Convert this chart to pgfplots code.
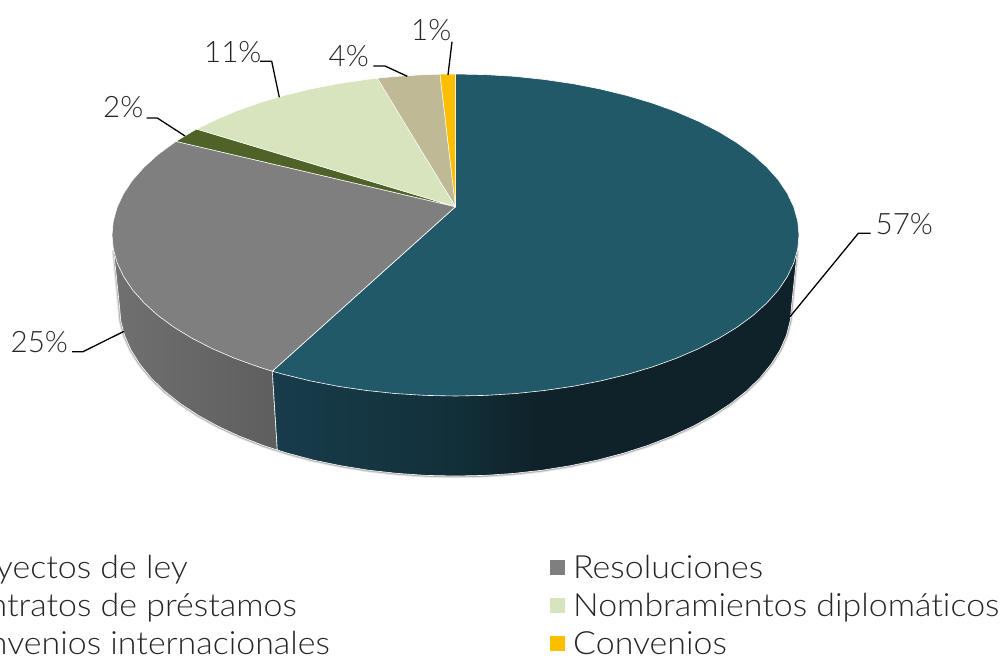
\documentclass[border=0pt]{standalone}
\usepackage{fontspec}
\setmainfont{Lato}[UprightFont=* Light,Ligatures=NoCommon]
\newfontfamily\legfont{Lato}[UprightFont=* Light,Ligatures=NoCommon,FakeStretch=1.06]
\usepackage{pgfplots}
\pgfplotsset{compat=1.18}
\definecolor{teal1}{HTML}{215968}
\definecolor{gray1}{HTML}{7F7F7F}
\definecolor{olive1}{HTML}{4F6228}
\definecolor{lime1}{HTML}{D7E4BD}
\definecolor{tan1}{HTML}{BFB995}
\definecolor{gold1}{HTML}{FCBF00}
\definecolor{txt}{HTML}{262626}
\definecolor{HTMLa}{HTML}{183C4B}
\definecolor{HTMLb}{HTML}{12303A}
\definecolor{HTMLc}{HTML}{0F2229}
\definecolor{gsa}{HTML}{707070}
\definecolor{gsb}{HTML}{5E5E5E}
\pgfdeclarehorizontalshading{tealside}{100bp}{color(0bp)=(HTMLa);color(25bp)=(HTMLa);color(42bp)=(HTMLb);color(50bp)=(HTMLc);color(100bp)=(HTMLc)}
\newcommand{\lab}[2]{\fontsize{#1}{#1}\selectfont\color{txt}#2}
\newcommand{\leg}[1]{\legfont\fontsize{32pt}{32pt}\selectfont\color{txt}#1}
\begin{document}
\begin{tikzpicture}[x=1pt,y=1pt]
\path[use as bounding box,clip] (0,0) rectangle (1005,658);
\begin{axis}[at={(0,0)},anchor=south west,width=1005pt,height=658pt,scale only axis,
  xmin=0,xmax=1005,ymin=0,ymax=658,y dir=reverse,hide axis,clip=true]
% shadow
\addplot[draw=black,line width=4.5pt,opacity=0.10] coordinates {(114,250)(119.5,306)(120.8,320.8)(124.6,335.5)(131,350)(139.8,364.1)(151,377.8)(164.5,391)(180.3,403.5)(198.1,415.3)(217.9,426.2)(239.5,436.2)(262.8,445.3)(287.5,453.2)(313.5,460.1)(340.6,465.7)(368.5,470.2)(397.2,473.4)(426.2,475.4)(455.5,476)(484.8,475.4)(513.8,473.4)(542.5,470.2)(570.4,465.7)(597.5,460.1)(623.5,453.2)(648.2,445.3)(671.5,436.2)(693.1,426.2)(712.9,415.3)(730.7,403.5)(746.5,391)(760,377.8)(771.2,364.1)(780,350)(786.4,335.5)(790.2,320.8)(791.5,306)(797,250)};
\addplot[draw=black,line width=2.6pt,opacity=0.22] coordinates {(114,250)(119.5,306)(120.8,320.8)(124.6,335.5)(131,350)(139.8,364.1)(151,377.8)(164.5,391)(180.3,403.5)(198.1,415.3)(217.9,426.2)(239.5,436.2)(262.8,445.3)(287.5,453.2)(313.5,460.1)(340.6,465.7)(368.5,470.2)(397.2,473.4)(426.2,475.4)(455.5,476)(484.8,475.4)(513.8,473.4)(542.5,470.2)(570.4,465.7)(597.5,460.1)(623.5,453.2)(648.2,445.3)(671.5,436.2)(693.1,426.2)(712.9,415.3)(730.7,403.5)(746.5,391)(760,377.8)(771.2,364.1)(780,350)(786.4,335.5)(790.2,320.8)(791.5,306)(797,250)};
% sides
\addplot[shade,left color=gsa,right color=gsb,draw=white,line width=0.6pt] coordinates {(272.3,371.2)(272.3,300)(112,235)(119.5,306)(120.8,320.8)(124.6,335.5)(131,350)(139.8,364.1)(151,377.8)(164.5,391)(180.3,403.5)(198.1,415.3)(217.9,426.2)(239.5,436.2)(262.8,445.3)(277.3,450)} --cycle;
\addplot[shade,shading=tealside,draw=white,line width=0.6pt] coordinates {(272.3,371.2)(272.3,300)(799,235)(791.5,306)(790.2,320.8)(786.4,335.5)(780,350)(771.2,364.1)(760,377.8)(746.5,391)(730.7,403.5)(712.9,415.3)(693.1,426.2)(671.5,436.2)(648.2,445.3)(623.5,453.2)(597.5,460.1)(570.4,465.7)(542.5,470.2)(513.8,473.4)(484.8,475.4)(455.5,476)(426.2,475.4)(397.2,473.4)(368.5,470.2)(340.6,465.7)(313.5,460.1)(287.5,453.2)(277.3,450)} --cycle;
% top faces
\addplot[fill=teal1,draw=white,line width=0.6pt] coordinates {(455.5,206.7)(455.5,74)(485.4,74.6)(515.1,76.4)(544.4,79.5)(573,83.7)(600.7,89.1)(627.3,95.6)(652.5,103.1)(676.3,111.7)(698.4,121.2)(718.6,131.5)(736.9,142.7)(753,154.5)(766.8,167)(778.3,179.9)(787.3,193.3)(793.8,207)(797.7,221)(799,235)(797.7,249)(793.8,263)(787.3,276.7)(778.3,290.1)(766.8,303)(753,315.5)(736.9,327.3)(718.6,338.5)(698.4,348.8)(676.3,358.3)(652.5,366.9)(627.3,374.4)(600.7,380.9)(573,386.3)(544.4,390.5)(515.1,393.6)(485.4,395.4)(455.5,396)(425.6,395.4)(395.9,393.6)(366.6,390.5)(338,386.3)(310.3,380.9)(283.75,374.4)(272.3,371.2)} --cycle;
\addplot[fill=gray1,draw=white,line width=0.6pt] coordinates {(455.5,206.7)(272.3,371.2)(258.5,366.9)(234.7,358.3)(212.6,348.8)(192.4,338.5)(174.1,327.3)(158,315.5)(144.2,303)(132.7,290.1)(123.7,276.7)(117.2,263)(113.3,249)(112,235)(113.3,221)(117.2,207)(123.7,193.3)(132.7,179.9)(144.2,167)(158,154.5)(174.1,142.7)(176,141.4)} --cycle;
\addplot[fill=olive1,draw=white,line width=0.5pt] coordinates {(455.5,206.7)(176,141.4)(192.4,131.5)(196.7,129.1)} --cycle;
\addplot[fill=lime1,draw=white,line width=0.5pt] coordinates {(455.5,206.7)(196.7,129.1)(212.6,121.2)(234.7,111.7)(258.5,103.1)(283.75,95.6)(310.3,89.1)(338,83.7)(366.6,79.5)(377.3,78.2)} --cycle;
\addplot[fill=tan1,draw=white,line width=0.5pt] coordinates {(455.5,206.7)(377.3,78.2)(395.9,76.4)(425.6,74.6)(440,74.2)} --cycle;
\addplot[fill=gold1,draw=white,line width=0.5pt] coordinates {(455.5,206.7)(440,74.2)(455.5,74)} --cycle;
% leaders
\addplot[black,line width=1.3pt] coordinates {(790,316.7)(858.3,233.3)(870.7,233.3)};
\addplot[black,line width=1.3pt] coordinates {(124,331.3)(83,351.7)(72,351.7)};
\addplot[black,line width=1.3pt] coordinates {(185,136)(157.3,118)(146.7,118)};
\addplot[black,line width=1.3pt] coordinates {(279.3,97.3)(271.7,61.3)(260,61.3)};
\addplot[black,line width=1.3pt] coordinates {(407.3,76.3)(385,66)(373.3,66)};
\addplot[black,line width=1.3pt] coordinates {(448,75)(452,41.7)};
% legend markers
\addplot[only marks,mark=square*,mark size=7pt,color=gray1] coordinates {(557,567)};
\addplot[only marks,mark=square*,mark size=7pt,color=lime1] coordinates {(557,605)};
\addplot[only marks,mark=square*,mark size=7pt,color=gold1] coordinates {(557,643)};
% labels
\node[anchor=base west,inner sep=0pt] at (axis cs:875.5,234) {\lab{29.5pt}{57\%}};
\node[anchor=base west,inner sep=0pt] at (axis cs:10.5,352) {\lab{29.5pt}{25\%}};
\node[anchor=base west,inner sep=0pt] at (axis cs:103,118) {\lab{29.5pt}{2\%}};
\node[anchor=base west,inner sep=0pt] at (axis cs:204,63) {\lab{29.5pt}{11\%}};
\node[anchor=base west,inner sep=0pt] at (axis cs:328.5,67) {\lab{29.5pt}{4\%}};
\node[anchor=base west,inner sep=0pt] at (axis cs:411,41) {\lab{29.5pt}{1\%}};
\node[anchor=base west,inner sep=0pt] at (axis cs:573,578) {\leg{Resoluciones}};
\node[anchor=base west,inner sep=0pt] at (axis cs:573,616) {\leg{Nombramientos diplomáticos}};
\node[anchor=base west,inner sep=0pt] at (axis cs:573,654) {\leg{Convenios}};
\node[anchor=base east,inner sep=0pt] at (axis cs:188,578) {\leg{Proyectos de ley}};
\node[anchor=base east,inner sep=0pt] at (axis cs:297,616) {\leg{Contratos de préstamos}};
\node[anchor=base east,inner sep=0pt] at (axis cs:330,654) {\leg{Convenios internacionales}};
\end{axis}
\end{tikzpicture}
\end{document}
